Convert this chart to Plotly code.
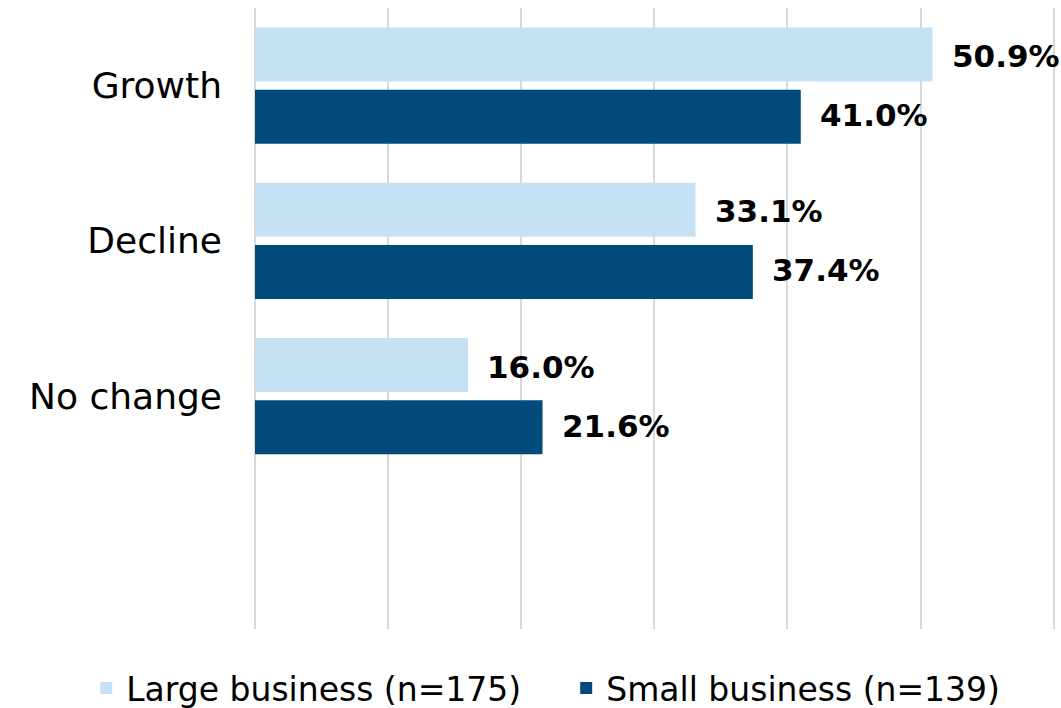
import plotly.graph_objects as go

# Share of respondents expecting each outcome
categories = ["Growth", "Decline", "No change"]
large_business = [50.9, 33.1, 16.0]
small_business = [41.0, 37.4, 21.6]
series_names = ["Large business (n=175)", "Small business (n=139)"]

LIGHT = "#C5E1F3"
DARK = "#004A7C"
FONT = "DejaVu Sans"

fig = go.Figure()
fig.add_trace(go.Bar(y=categories, x=large_business, name=series_names[0],
                     orientation="h", marker=dict(color=LIGHT, line=dict(width=0))))
fig.add_trace(go.Bar(y=categories, x=small_business, name=series_names[1],
                     orientation="h", marker=dict(color=DARK, line=dict(width=0))))

# Bold value labels to the right of each bar
n = len(categories)
for i, cat in enumerate(categories):
    for j, vals in enumerate([large_business, small_business]):
        fig.add_annotation(
            x=vals[i], y=i - 0.19 + 0.38 * j, xref="x", yref="y",
            text=f"<b>{vals[i]:.1f}%</b>", showarrow=False,
            xanchor="left", yanchor="middle", xshift=17,
            font=dict(family=FONT, size=31, color="#000000"),
        )

fig.update_layout(
    width=1061, height=708,
    margin=dict(l=255, r=6, t=8, b=79, autoexpand=False),
    plot_bgcolor="white", paper_bgcolor="white",
    barmode="group", bargap=0.2, bargroupgap=0.13,
    font=dict(family=FONT, size=36, color="#000000"),
    showlegend=True,
    legend=dict(orientation="h", x=-0.211, xanchor="left", y=-0.095, yanchor="middle",
                font=dict(family=FONT, size=33, color="#000000"),
                entrywidth=435, entrywidthmode="pixels",
                traceorder="normal", itemclick=False),
    xaxis=dict(range=[0, 60.1], dtick=10, showticklabels=False,
               showgrid=True, gridcolor="#D9D9D9", gridwidth=1.5,
               zeroline=True, zerolinecolor="#D9D9D9", zerolinewidth=1.5,
               showline=False),
    yaxis=dict(type="category", categoryorder="array", categoryarray=categories,
               range=[n + 0.5, -0.5], showgrid=False, showline=False, zeroline=False,
               ticks="", ticklabelstandoff=32),
)

fig.write_html("out.html")
